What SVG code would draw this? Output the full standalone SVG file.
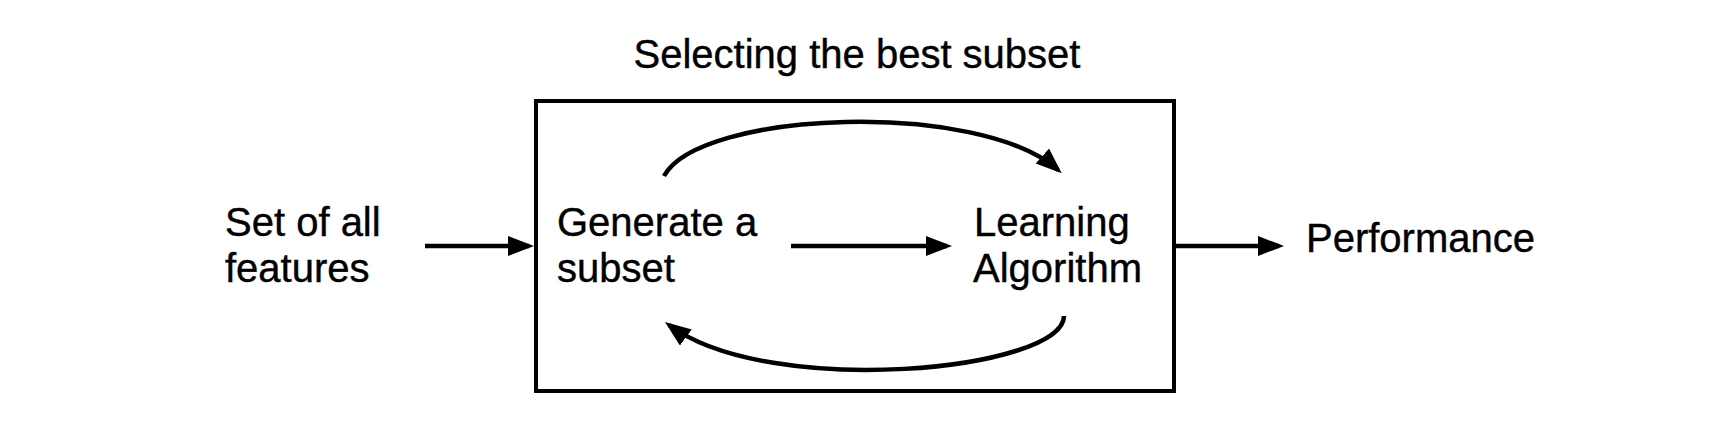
<svg xmlns="http://www.w3.org/2000/svg" width="1716" height="442" viewBox="0 0 1716 442">
<style>
text{font-family:"Liberation Sans",Arial,sans-serif;font-size:40px;fill:#000;stroke:#000;stroke-width:0.4}
.c{fill:none;stroke:#000;stroke-width:4.5}
</style>
<defs>
<marker id="ah" markerUnits="userSpaceOnUse" markerWidth="28" markerHeight="22" refX="21" refY="10" orient="auto">
<path d="M0,0 L26,10 L0,20 z" fill="#000"/>
</marker>
</defs>
<rect width="1716" height="442" fill="#fff"/>
<g id="title"><text x="857" y="68" text-anchor="middle">Selecting the best subset</text></g>
<g id="box"><rect x="536" y="101" width="638" height="290" fill="none" stroke="#000" stroke-width="4"/></g>
<g id="input"><text x="225" y="236">Set of all</text><text x="225" y="282">features</text></g>
<g id="generate"><text x="557" y="236">Generate a</text><text x="557" y="282">subset</text></g>
<g id="learning"><text x="974" y="236">Learning</text><text x="973" y="282">Algorithm</text></g>
<g id="performance"><text x="1306" y="252">Performance</text></g>
<g id="connectors">
<path class="c" d="M425,246 H529" marker-end="url(#ah)"/>
<path class="c" d="M791,246 H947" marker-end="url(#ah)"/>
<path class="c" d="M1176,246 H1279" marker-end="url(#ah)"/>
<path class="c" d="M664,176 C700,110 980,100 1058,170" marker-end="url(#ah)"/>
<path class="c" d="M1064,316 C1064,370 770,400 669,325" marker-end="url(#ah)"/>
</g>
</svg>
